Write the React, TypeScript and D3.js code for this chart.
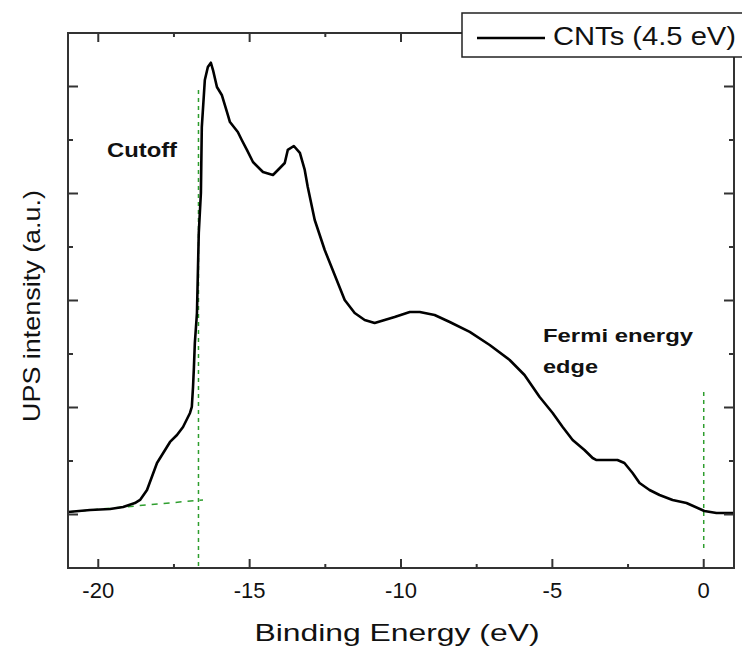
import React from "react";
import * as d3 from "d3";

const energy = [
  -21.0, -20.27, -19.61, -19.18, -18.79, -18.62, -18.39, -18.06, -17.63, -17.4, -17.2, -16.97,
  -16.91, -16.87, -16.84, -16.81, -16.74, -16.68, -16.61, -16.58, -16.48, -16.38, -16.28, -16.21,
  -16.08, -15.92, -15.75, -15.65, -15.39, -15.26, -15.09, -14.89, -14.56, -14.23, -14.0, -13.84,
  -13.74, -13.54, -13.34, -13.18, -13.08, -12.85, -12.52, -12.19, -11.86, -11.53, -11.2, -10.87,
  -10.54, -10.21, -9.71, -9.38, -8.89, -8.39, -7.73, -7.07, -6.41, -5.92, -5.42, -4.99, -4.66,
  -4.33, -3.94, -3.67, -3.54, -2.85, -2.62, -2.35, -2.12, -1.79, -1.46, -1.03, -0.57, 0.02, 0.42, 1.0,
];
const intensity = [
  0.023, 0.042, 0.051, 0.07, 0.107, 0.136, 0.229, 0.481, 0.678, 0.743, 0.818, 0.949,
  1.005, 1.192, 1.379, 1.603, 1.883, 2.631, 3.005, 3.621, 4.061, 4.182, 4.222, 4.154,
  3.995, 3.921, 3.762, 3.668, 3.575, 3.5, 3.407, 3.294, 3.201, 3.173, 3.238, 3.285,
  3.407, 3.444, 3.379, 3.22, 3.061, 2.752, 2.472, 2.238, 2.005, 1.883, 1.818, 1.79,
  1.818, 1.846, 1.893, 1.893, 1.864, 1.799, 1.706, 1.584, 1.444, 1.304, 1.098, 0.949, 0.818,
  0.696, 0.603, 0.528, 0.509, 0.509, 0.481, 0.388, 0.294, 0.229, 0.182, 0.136, 0.107, 0.033, 0.014, 0.014,
];
const xMajorTicks = [-20, -15, -10, -5, 0];
const xMinorTicks = [-17.5, -12.5, -7.5, -2.5];
const yMajorTicks = [0, 1, 2, 3, 4];
const yMinorTicks = [0.5, 1.5, 2.5, 3.5];
const xTickLabels = ["-20", "-15", "-10", "-5", "0"];
const cutoffGuide = [[-16.69, 3.967], [-16.69, -0.5]];
const baselineGuide = [[-21, 0.023], [-16.54, 0.136]];
const fermiGuide = [[0, 1.145], [0, -0.35]];
const seriesName = "CNTs (4.5 eV)";

const W = 742, H = 649;
const L = 68, R = 734, T = 33, B = 568;
const FONT = "'Liberation Sans', Arial, sans-serif";

export default function App() {
  const x = d3.scaleLinear().domain([-21, 1]).range([L, R]);
  const y = d3.scaleLinear().domain([-0.5, 4.5]).range([B, T]);
  const pts: [number, number][] = energy.map((e, i) => [e, intensity[i]]);
  const line = d3.line<[number, number]>().x((d) => x(d[0])).y((d) => y(d[1]));
  const gl = d3.line<number[]>().x((d) => x(d[0])).y((d) => y(d[1]));
  const green = "#2e9e2e";
  const axisColor = "#333";
  return (
    <svg width={W} height={H} style={{ position: "absolute", left: 0, top: 0, background: "#fff" }}>
      <rect x={0} y={0} width={W} height={H} fill="#fff" />
      {/* guides */}
      <path d={gl(cutoffGuide) || ""} stroke={green} strokeWidth={1.5} strokeDasharray="4,4" fill="none" />
      <path d={gl(baselineGuide) || ""} stroke={green} strokeWidth={1.5} strokeDasharray="6,6" fill="none" />
      <path d={gl(fermiGuide) || ""} stroke={green} strokeWidth={1.5} strokeDasharray="4,4" fill="none" />
      {/* data */}
      <path d={line(pts) || ""} stroke="#000" strokeWidth={2.6} fill="none" strokeLinejoin="round" />
      {/* frame */}
      <rect x={L} y={T} width={R - L} height={B - T} fill="none" stroke={axisColor} strokeWidth={2} />
      {xMajorTicks.map((t) => (
        <g key={"xM" + t}>
          <line x1={x(t)} x2={x(t)} y1={B} y2={B - 9} stroke={axisColor} strokeWidth={2} />
          <line x1={x(t)} x2={x(t)} y1={T} y2={T + 9} stroke={axisColor} strokeWidth={2} />
        </g>
      ))}
      {xMinorTicks.map((t) => (
        <g key={"xm" + t}>
          <line x1={x(t)} x2={x(t)} y1={B} y2={B - 4} stroke={axisColor} strokeWidth={2} />
          <line x1={x(t)} x2={x(t)} y1={T} y2={T + 4} stroke={axisColor} strokeWidth={2} />
        </g>
      ))}
      {yMajorTicks.map((t) => (
        <g key={"yM" + t}>
          <line x1={L} x2={L + 10} y1={y(t)} y2={y(t)} stroke={axisColor} strokeWidth={2} />
          <line x1={R} x2={R - 10} y1={y(t)} y2={y(t)} stroke={axisColor} strokeWidth={2} />
        </g>
      ))}
      {yMinorTicks.map((t) => (
        <g key={"ym" + t}>
          <line x1={L} x2={L + 5} y1={y(t)} y2={y(t)} stroke={axisColor} strokeWidth={2} />
          <line x1={R} x2={R - 5} y1={y(t)} y2={y(t)} stroke={axisColor} strokeWidth={2} />
        </g>
      ))}
      {xMajorTicks.map((t, i) => (
        <text key={"xl" + t} x={x(t)} y={598} fontFamily={FONT} fontSize={22} textAnchor="middle" fill="#111">
          {xTickLabels[i]}
        </text>
      ))}
      <text x={397} y={641} fontFamily={FONT} fontSize={24} textAnchor="middle" fill="#111"
        textLength={285} lengthAdjust="spacingAndGlyphs">
        Binding Energy (eV)
      </text>
      <text
        transform={`translate(40, 306) rotate(-90)`}
        fontFamily={FONT}
        fontSize={24}
        textAnchor="middle"
        fill="#111"
        textLength={232}
        lengthAdjust="spacingAndGlyphs"
      >
        UPS intensity (a.u.)
      </text>
      {/* annotations */}
      <text x={107} y={157} fontFamily={FONT} fontSize={20} fontWeight="bold" fill="#111"
        textLength={70} lengthAdjust="spacingAndGlyphs">
        Cutoff
      </text>
      <text x={543} y={342} fontFamily={FONT} fontSize={18} fontWeight="bold" fill="#111"
        textLength={150} lengthAdjust="spacingAndGlyphs">
        Fermi energy
      </text>
      <text x={543} y={373} fontFamily={FONT} fontSize={18} fontWeight="bold" fill="#111"
        textLength={55} lengthAdjust="spacingAndGlyphs">
        edge
      </text>
      {/* legend */}
      <rect x={462} y={13} width={300} height={44} fill="#fff" stroke="#222" strokeWidth={1.5} />
      <line x1={477} x2={545} y1={38} y2={38} stroke="#000" strokeWidth={2.6} />
      <text x={553} y={45} fontFamily={FONT} fontSize={25} fill="#111"
        textLength={183} lengthAdjust="spacingAndGlyphs">
        {seriesName}
      </text>
    </svg>
  );
}
